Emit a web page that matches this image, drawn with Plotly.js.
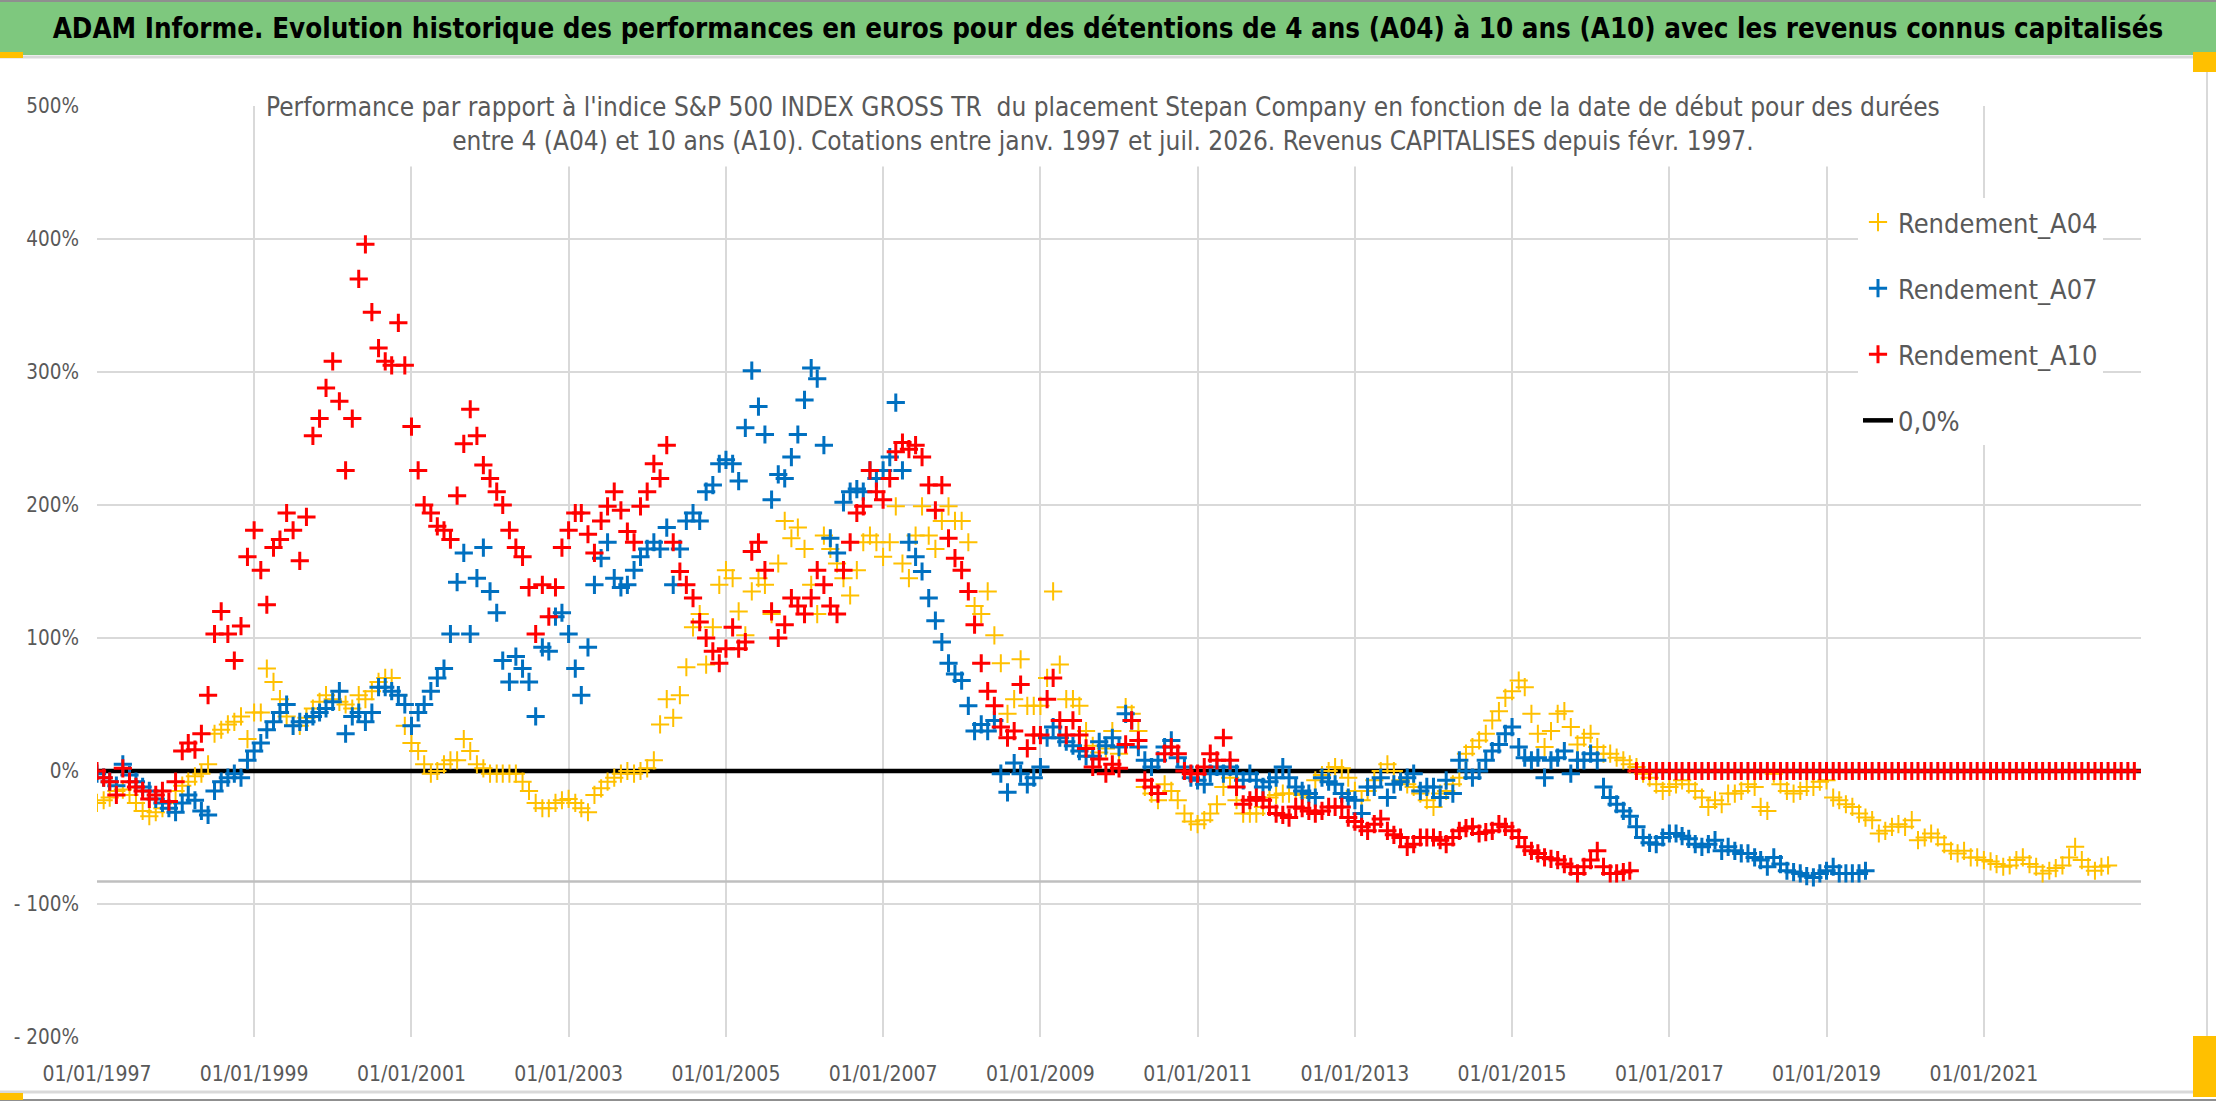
<!DOCTYPE html>
<html>
<head>
<meta charset="utf-8">
<script src="https://cdn.plot.ly/plotly-3.0.1.min.js"></script>
<style>
  html, body { margin: 0; padding: 0; background: #fff; }
  #chart { width: 2216px; height: 1102px; }
</style>
</head>
<body>
<div id="chart"></div>
<script>
// monthly values in %, first value = January 1997
const A04 = [
  -24, -22, -20, -15, -14, -18, -24, -30, -34, -31, -28, -24,
  -15, -11, -8, -4, -2, 5, 28, 31, 35, 37, 41, 24,
  44, 44, 77, 67, 54, 41, 34, 34, 40, 47, 52, 57,
  54, 52, 50, 47, 57, 54, 60, 67, 70, 70, 57, 34,
  21, 15, 5, -2, 0, 5, 8, 8, 24, 15, 5, 2,
  -2, -2, -2, -2, -2, -8, -15, -24, -28, -28, -24, -22,
  -21, -24, -28, -31, -18, -13, -8, -5, -2, 0, -2, 0,
  2, 8, 35, 54, 40, 57, 78, 108, 118, 80, 108, 140,
  151, 145, 120, 102, 135, 145, 140, 118, 156, 188, 175, 183,
  167, 140, 118, 177, 167, 156, 145, 132, 151, 172, 177, 172,
  161, 172, 199, 156, 145, 177, 199, 177, 167, 188, 199, 188,
  188, 172, 124, 118, 135, 102, 81, 43, 54, 84, 49, 49,
  49, 70, 135, 80, 54, 54, 49, 30, 19, 14, 17, 30,
  13, 48, 43, 30, -12, -17, -22, -10, -15, -22, -32, -38,
  -40, -37, -32, -25, -12, -5, -22, -32, -32, -32, -27, -20,
  -18, -17, -17, -17, -18, -20, -7, -3, 0, 3, 2, -5,
  -15, -22, -15, -7, 0, 5, 0, -7, -10, -12, -17, -22,
  -27, -17, -15, -10, -5, 13, 18, 23, 28, 38, 45, 55,
  60, 68, 63, 43, 28, 18, 30, 43, 45, 33, 20, 25,
  28, 18, 13, 13, 10, 8, 5, 3, -2, -5, -10, -15,
  -12, -10, -7, -10, -15, -20, -27, -22, -25, -17, -17, -15,
  -10, -12, -27, -30, -2, -10, -15, -17, -15, -12, -12, -8,
  -7, -20, -22, -25, -27, -32, -35, -37, -47, -45, -42, -40,
  -42, -37, -52, -50, -47, -50, -55, -60, -62, -60, -65, -65,
  -67, -68, -70, -72, -71, -67, -65, -70, -72, -77, -75, -73,
  -71, -65, -57, -67, -72, -75, -72, -71,
];

const A07 = [
  -2, -5, -8, -11, 5, -3, -8, -12, -15, -21, -24, -28,
  -31, -24, -18, -22, -30, -33, -15, -8, -5, -2, -5, 8,
  15, 21, 31, 37, 44, 50, 34, 37, 37, 41, 44, 47,
  52, 60, 28, 41, 44, 37, 44, 63, 63, 60, 57, 50,
  34, 44, 50, 60, 70, 77, 103, 142, 164, 103, 145, 168,
  135, 119, 83, 67, 86, 77, 67, 41, 93, 90, 116, 119,
  103, 77, 57, 93, 140, 160, 172, 145, 138, 140, 151, 161,
  167, 172, 167, 183, 140, 167, 188, 194, 188, 210, 215, 231,
  234, 231, 218, 258, 301, 274, 253, 204, 223, 220, 236, 253,
  279, 303, 295, 245, 175, 164, 202, 210, 212, 210, 226, 220,
  226, 236, 277, 226, 172, 161, 150, 130, 113, 97, 81, 73,
  68, 49, 30, 35, 30, 38, -2, -16, 6, -2, -10, -5,
  3, 25, 33, 25, 22, 19, 15, 11, 11, 22, 19, 25,
  18, 43, 38, 18, 8, 3, 8, 18, 23, 10, 3, -5,
  -7, -10, -2, 3, -2, 3, -2, -7, -2, -7, -12, -8,
  -5, 3, -5, -12, -15, -17, -20, -5, -8, -10, -17, -20,
  -22, -32, -12, -12, -5, -20, -10, -8, -5, -2, -15, -12,
  -12, -20, -7, -17, 8, 0, -5, 0, 8, 15, 20, 28,
  33, 18, 10, 8, 10, -5, 8, 10, 15, -2, 8, 8,
  13, 8, -12, -20, -25, -30, -34, -42, -50, -54, -55, -50,
  -47, -47, -49, -51, -55, -57, -55, -52, -60, -57, -60, -62,
  -62, -65, -67, -72, -65, -70, -75, -76, -77, -79, -80, -77,
  -75, -72, -77, -77, -77, -77, -75,
];

const A10 = [
  0, -5, -8, -18, 2, -8, -12, -15, -21, -18, -15, -23,
  -8, 15, 21, 16, 28, 57, 103, 120, 103, 83, 109, 161,
  181, 151, 125, 168, 174, 194, 181, 158, 191, 252, 265, 288,
  308, 278, 226, 265, 370, 396, 345, 318, 308, 305, 337, 305,
  259, 226, 200, 194, 184, 181, 174, 207, 246, 272, 252, 230,
  220, 210, 200, 181, 168, 161, 138, 103, 140, 116, 138, 168,
  181, 194, 194, 178, 164, 188, 199, 210, 196, 180, 172, 199,
  210, 231, 220, 245, 172, 150, 140, 130, 112, 100, 90, 81,
  92, 108, 92, 97, 165, 172, 151, 120, 100, 110, 130, 124,
  118, 130, 151, 140, 124, 118, 151, 172, 194, 199, 226, 210,
  204, 220, 240, 247, 242, 245, 236, 215, 196, 215, 175, 160,
  151, 135, 110, 81, 60, 49, 33, 25, 30, 65, 17, 27,
  27, 54, 70, 38, 27, 38, 27, 17, 3, 9, -2, 5,
  2, 20, 38, 23, -7, -12, -17, 13, 18, 13, 0, -2,
  -2, 3, 13, 8, 25, 8, -12, -25, -22, -20, -22, -27,
  -32, -33, -35, -27, -28, -30, -32, -30, -27, -27, -27, -35,
  -38, -42, -45, -40, -36, -45, -48, -50, -57, -55, -50, -50,
  -50, -52, -55, -50, -45, -43, -42, -47, -46, -45, -40, -42,
  -45, -50, -57, -60, -62, -65, -66, -67, -70, -72, -77, -72,
  -67, -60, -72, -77, -77, -76, -75, 0, 0, 0, 0, 0,
  0, 0, 0, 0, 0, 0, 0, 0, 0, 0, 0, 0,
  0, 0, 0, 0, 0, 0, 0, 0, 0, 0, 0, 0,
  0, 0, 0, 0, 0, 0, 0, 0, 0, 0, 0, 0,
  0, 0, 0, 0, 0, 0, 0, 0, 0, 0, 0, 0,
  0, 0, 0, 0, 0, 0, 0, 0, 0, 0, 0, 0,
  0, 0, 0, 0, 0, 0, 0, 0, 0, 0, 0, 0,
];

const ZERO_X = ['1997-01-01', '2023-01-01'];
const ZERO_Y = [0, 0];
const AXIS_CROSS = -83;

const X_TICKS = ['1997-01-01', '1999-01-01', '2001-01-01', '2003-01-01', '2005-01-01', '2007-01-01',
  '2009-01-01', '2011-01-01', '2013-01-01', '2015-01-01', '2017-01-01', '2019-01-01', '2021-01-01'];
const X_LABELS = X_TICKS.map(d => `01/01/${d.slice(0, 4)}`);
const Y_TICKS = [-200, -100, 0, 100, 200, 300, 400, 500];
const Y_LABELS = ['- 200%', '- 100%', '0%', '100%', '200%', '300%', '400%', '500%'];

const NAMES = ['Rendement_A04', 'Rendement_A07', 'Rendement_A10', '0,0%'];
const TITLE = 'ADAM Informe. Evolution historique des performances en euros pour des détentions de 4 ans (A04) à 10 ans (A10) avec les revenus connus capitalisés';
const SUBTITLE = "Performance par rapport à l'indice S&P 500 INDEX GROSS TR  du placement Stepan Company en fonction de la date de début pour des durées<br>entre 4 (A04) et 10 ans (A10). Cotations entre janv. 1997 et juil. 2026. Revenus CAPITALISES depuis févr. 1997.";

const FONT = '"DejaVu Sans Condensed", "Liberation Sans Narrow", sans-serif';
const GREY = '#595959';

// plot box in page pixels
const W = 2216;
const H = 1102;
const BOX = { l: 97, r: 2141, t: 106, b: 1037 };
const px = x => (x - BOX.l) / (BOX.r - BOX.l);
const py = y => (BOX.b - y) / (BOX.b - BOX.t);

function monthDates(count) {
  const dates = [];
  for (let i = 0; i < count; i += 1) {
    const year = 1997 + Math.floor(i / 12);
    const month = String((i % 12) + 1).padStart(2, '0');
    dates.push(`${year}-${month}-01`);
  }
  return dates;
}

function crossTrace(values, name, color, width, rank) {
  return {
    x: monthDates(values.length),
    y: values,
    name,
    type: 'scatter',
    mode: 'markers',
    legendgroup: name,
    legendrank: rank,
    marker: { symbol: 'cross-thin', size: 13, color, line: { width, color } },
  };
}

const traces = [
  {
    x: ZERO_X,
    y: ZERO_Y,
    name: NAMES[3],
    type: 'scatter',
    mode: 'lines',
    legendgroup: 'zero',
    legendrank: 4,
    line: { color: '#000000', width: 4.5 },
  },
  crossTrace(A04, NAMES[0], '#FFC000', 2, 1),
  crossTrace(A07, NAMES[1], '#0070C0', 3, 2),
  crossTrace(A10, NAMES[2], '#FF0000', 3, 3),
];

const paperLine = (x0, y0, x1, y1, color, width) => ({
  type: 'line', xref: 'paper', yref: 'paper',
  x0: px(x0), y0: py(y0), x1: px(x1), y1: py(y1),
  line: { color, width },
});
const paperRect = (x0, y0, x1, y1, color) => ({
  type: 'rect', xref: 'paper', yref: 'paper',
  x0: px(x0), y0: py(y0), x1: px(x1), y1: py(y1),
  fillcolor: color, line: { width: 0 },
});

const layout = {
  width: W,
  height: H,
  margin: { l: BOX.l, r: W - BOX.r, t: BOX.t, b: H - BOX.b },
  paper_bgcolor: '#ffffff',
  plot_bgcolor: '#ffffff',
  showlegend: true,
  font: { family: FONT, color: GREY },
  title: {
    text: TITLE,
    font: { family: FONT, size: 27.5, color: '#000000', weight: 'bold' },
    xref: 'container', yref: 'container',
    x: 0.5, y: 1 - 28 / H,
    xanchor: 'center', yanchor: 'middle',
  },
  xaxis: {
    type: 'date',
    range: ['1997-01-01', '2023-01-01'],
    tickmode: 'array',
    tickvals: X_TICKS,
    ticktext: X_LABELS,
    ticks: '',
    ticklabelstandoff: 22,
    tickfont: { family: FONT, size: 21, color: GREY },
    showgrid: true,
    gridcolor: '#d9d9d9',
    gridwidth: 2,
    showline: false,
    zeroline: false,
  },
  yaxis: {
    range: [-200, 500],
    tickmode: 'array',
    tickvals: Y_TICKS,
    ticktext: Y_LABELS,
    ticks: '',
    ticklabelstandoff: 17,
    tickfont: { family: FONT, size: 20.5, color: GREY },
    showgrid: true,
    gridcolor: '#d9d9d9',
    gridwidth: 2,
    showline: false,
    zeroline: false,
  },
  legend: {
    x: px(1858), y: py(198),
    xanchor: 'left', yanchor: 'top',
    bgcolor: '#ffffff',
    borderwidth: 0,
    font: { family: FONT, size: 27, color: GREY },
    tracegroupgap: 28,
    itemwidth: 30,
  },
  annotations: [{
    text: SUBTITLE,
    xref: 'paper', yref: 'paper',
    x: px(1103), y: py(124.5),
    xanchor: 'center', yanchor: 'middle',
    showarrow: false,
    align: 'center',
    bgcolor: '#ffffff',
    borderpad: 10,
    font: { family: FONT, size: 26, color: GREY },
  }],
  shapes: [
    paperRect(0, 0, W, 55, '#7ec87e'),
    paperLine(0, 1, W, 1, '#8f8f8f', 2),
    paperLine(0, 57, 2207, 57, '#d9d9d9', 3),
    paperLine(2207, 57, 2207, 1092, '#d9d9d9', 2),
    paperLine(0, 1092, 2207, 1092, '#d9d9d9', 3),
    paperLine(0, 1100, W, 1100, '#8f8f8f', 2),
    paperRect(0, 52, 23, 58, '#FFC000'),
    paperRect(2193, 52, 2216, 72, '#FFC000'),
    paperRect(2193, 1036, 2216, 1097, '#FFC000'),
    paperRect(0, 1093, 23, 1100, '#FFC000'),
    {
      type: 'line', xref: 'x', yref: 'y', layer: 'between',
      x0: ZERO_X[0], x1: ZERO_X[1], y0: AXIS_CROSS, y1: AXIS_CROSS,
      line: { color: '#bfbfbf', width: 2.5 },
    },
  ],
};

Plotly.newPlot('chart', traces, layout, { staticPlot: true, displayModeBar: false });
</script>
</body>
</html>
